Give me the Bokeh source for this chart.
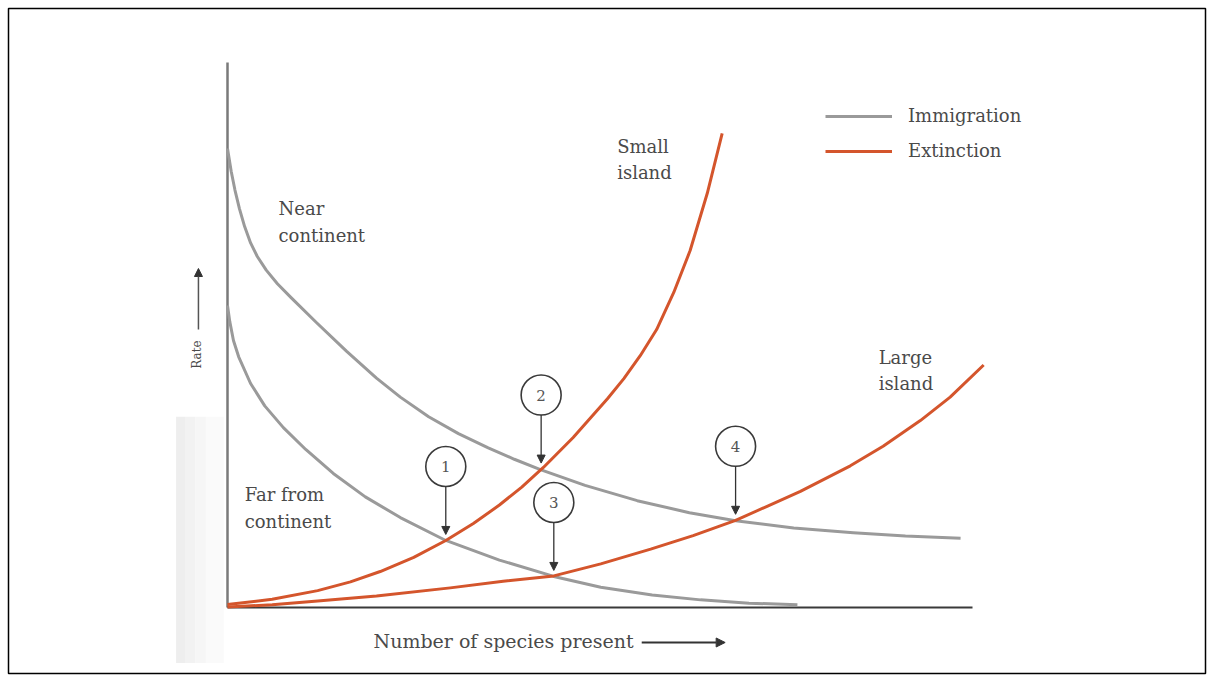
from bokeh.plotting import figure
from bokeh.models import Range1d, Arrow, NormalHead, Legend, LegendItem
from bokeh.core.properties import value
from bokeh.embed import file_html
from bokeh.resources import INLINE

# ---- data (species present, rate) ----
near_x = [0, 0.5, 1.0, 1.6, 2.3, 3.1, 4.0, 5.2, 6.7, 8.5, 12.0, 16.0, 20.0, 23.2, 27.0,
          31.0, 35.0, 38.5, 42.0, 48.0, 55.0, 62.0, 68.2, 76.0, 84.0, 91.0, 98.4]
near_y = [84.2, 80.0, 76.6, 73.2, 69.9, 66.9, 64.4, 61.9, 59.4, 56.9, 52.2, 47.0, 42.1, 38.6, 35.0,
          31.9, 29.3, 27.2, 25.3, 22.4, 19.6, 17.4, 15.9, 14.6, 13.7, 13.1, 12.7]

far_x = [0, 0.3, 0.8, 1.5, 3.1, 5.0, 7.5, 10.5, 14.2, 18.5, 23.2, 29.3, 36.5, 43.8,
         50.1, 57.0, 63.5, 70.0, 76.5]
far_y = [55.4, 52.5, 49.0, 46.0, 41.1, 37.0, 33.0, 29.0, 24.6, 20.3, 16.5, 12.3, 8.7, 5.7,
         3.7, 2.3, 1.4, 0.8, 0.5]

small_x = [0, 6.0, 12.1, 16.5, 20.5, 25.0, 29.3, 33.0, 36.5, 39.5, 42.4, 46.4, 51.0,
           53.2, 55.4, 57.6, 59.9, 62.1, 64.4, 66.4]
small_y = [0.55, 1.5, 3.1, 4.7, 6.6, 9.2, 12.3, 15.4, 18.8, 22.1, 25.7, 31.2, 38.3,
           42.0, 46.2, 51.0, 57.8, 65.5, 76.0, 87.0]

large_x = [0, 6.0, 12.1, 20.0, 29.9, 37.0, 43.8, 50.1, 56.8, 62.5, 68.2, 72.5, 76.9,
           83.6, 88.0, 93.0, 97.0, 101.5]
large_y = [0.1, 0.5, 1.2, 2.1, 3.6, 4.8, 5.8, 8.0, 10.7, 13.2, 16.0, 18.6, 21.3,
           26.0, 29.6, 34.3, 38.6, 44.5]

# equilibrium points (intersections) and their numbers
eq_labels = ["1", "2", "3", "4"]
eq_x = [29.3, 42.1, 43.8, 68.2]
eq_y = [12.3, 25.4, 5.7, 16.0]

curve_labels = ["Near", "continent", "Small", "island", "Large", "island", "Far from", "continent"]
curve_label_x = [6.85, 6.85, 52.3, 52.3, 87.4, 87.4, 2.3, 2.3]
curve_label_y = [73.2, 68.3, 84.6, 79.8, 45.9, 41.1, 20.7, 15.8]

# ---- layout: 1 data unit = 7.45 px (x), 5.45 px (y) ----
PAD = 8
W, H = 1197, 665          # frame size
PX_X, PX_Y = 7.45, 5.45
X0, Y0 = 219, 66          # frame pixel of data origin (from left, from bottom)

GRAY = "#9a9a9a"
RED = "#d4552c"
TXT = "#4a4a4a"
SERIF = "DejaVu Serif"

p = figure(width=W + 2 * PAD, height=H + 2 * PAD, output_backend="svg",
           toolbar_location=None,
           x_range=Range1d(-X0 / PX_X, (W - X0) / PX_X),
           y_range=Range1d(-Y0 / PX_Y, (H - Y0) / PX_Y),
           min_border=PAD, min_border_left=PAD, min_border_right=PAD,
           min_border_top=PAD, min_border_bottom=PAD)
p.axis.visible = False
p.grid.visible = False
p.outline_line_color = "black"
p.outline_line_width = 1.5
p.background_fill_color = "white"
p.border_fill_color = "white"

# faint scan shadow on the left (graded)
p.quad(left=[-6.9, -5.6, -4.3, -2.9], right=[-5.6, -4.3, -2.9, -0.5],
       bottom=[-10.2] * 4, top=[35.0] * 4,
       fill_color=["#eeeeee", "#f2f2f2", "#f6f6f6", "#fafafa"], line_color=None)

# axes
p.line([0, 0], [0, 100], line_color="#7a7a7a", line_width=2.5)
p.line([0, 100], [0, 0], line_color="#3a3a3a", line_width=2)

# curves
r_near = p.line(near_x, near_y, line_color=GRAY, line_width=3, line_join="round")
p.line(far_x, far_y, line_color=GRAY, line_width=3, line_join="round")
r_small = p.line(small_x, small_y, line_color=RED, line_width=3, line_join="round")
p.line(large_x, large_y, line_color=RED, line_width=3, line_join="round")

# numbered markers with arrows
off = 74 / PX_Y
cy = [y + off for y in eq_y]
for x, y, c in zip(eq_x, eq_y, cy):
    p.add_layout(Arrow(end=NormalHead(size=8, fill_color="#333333", line_color="#333333"),
                       x_start=x, y_start=c - 20 / PX_Y, x_end=x, y_end=y + 6 / PX_Y,
                       line_color="#333333", line_width=1.3))
p.scatter(eq_x, cy, marker="circle", size=40, fill_color="white",
          line_color="#3a3a3a", line_width=1.6)
p.text(eq_x, cy, text=eq_labels, text_align="center", text_baseline="middle",
       text_font=value(SERIF), text_font_size="15px", text_color="#555555")

# curve labels
p.text(curve_label_x, curve_label_y, text=curve_labels, text_align="left",
       text_baseline="middle", text_font=value(SERIF), text_font_size="18px",
       text_color=TXT)

# axis titles with arrows
p.text([19.6], [-6.06], text=["Number of species present"], text_align="left",
       text_baseline="middle", text_font=value(SERIF), text_font_size="19px",
       text_color=TXT)
p.add_layout(Arrow(end=NormalHead(size=9, fill_color="#333333", line_color="#333333"),
                   x_start=55.6, y_start=-6.42, x_end=66.8, y_end=-6.42,
                   line_color="#333333", line_width=2))
p.text([-4.03], [46.4], text=["Rate"], angle=1.5708, text_align="center",
       text_baseline="middle", text_font=value(SERIF), text_font_size="12px",
       text_color=TXT)
p.add_layout(Arrow(end=NormalHead(size=8, fill_color="#333333", line_color="#333333"),
                   x_start=-3.9, y_start=51.0, x_end=-3.9, y_end=62.2,
                   line_color="#555555", line_width=1.5))

legend = Legend(items=[LegendItem(label="Immigration", renderers=[r_near]),
                       LegendItem(label="Extinction", renderers=[r_small])],
                location=(817, 512), padding=0, margin=0, spacing=14,
                glyph_width=67, glyph_height=20, label_height=20,
                label_standoff=16, label_text_font=SERIF,
                label_text_font_size="18px", label_text_color=TXT,
                border_line_alpha=0, background_fill_alpha=0)
p.add_layout(legend)

open("out.html", "w").write(file_html(p, INLINE))
